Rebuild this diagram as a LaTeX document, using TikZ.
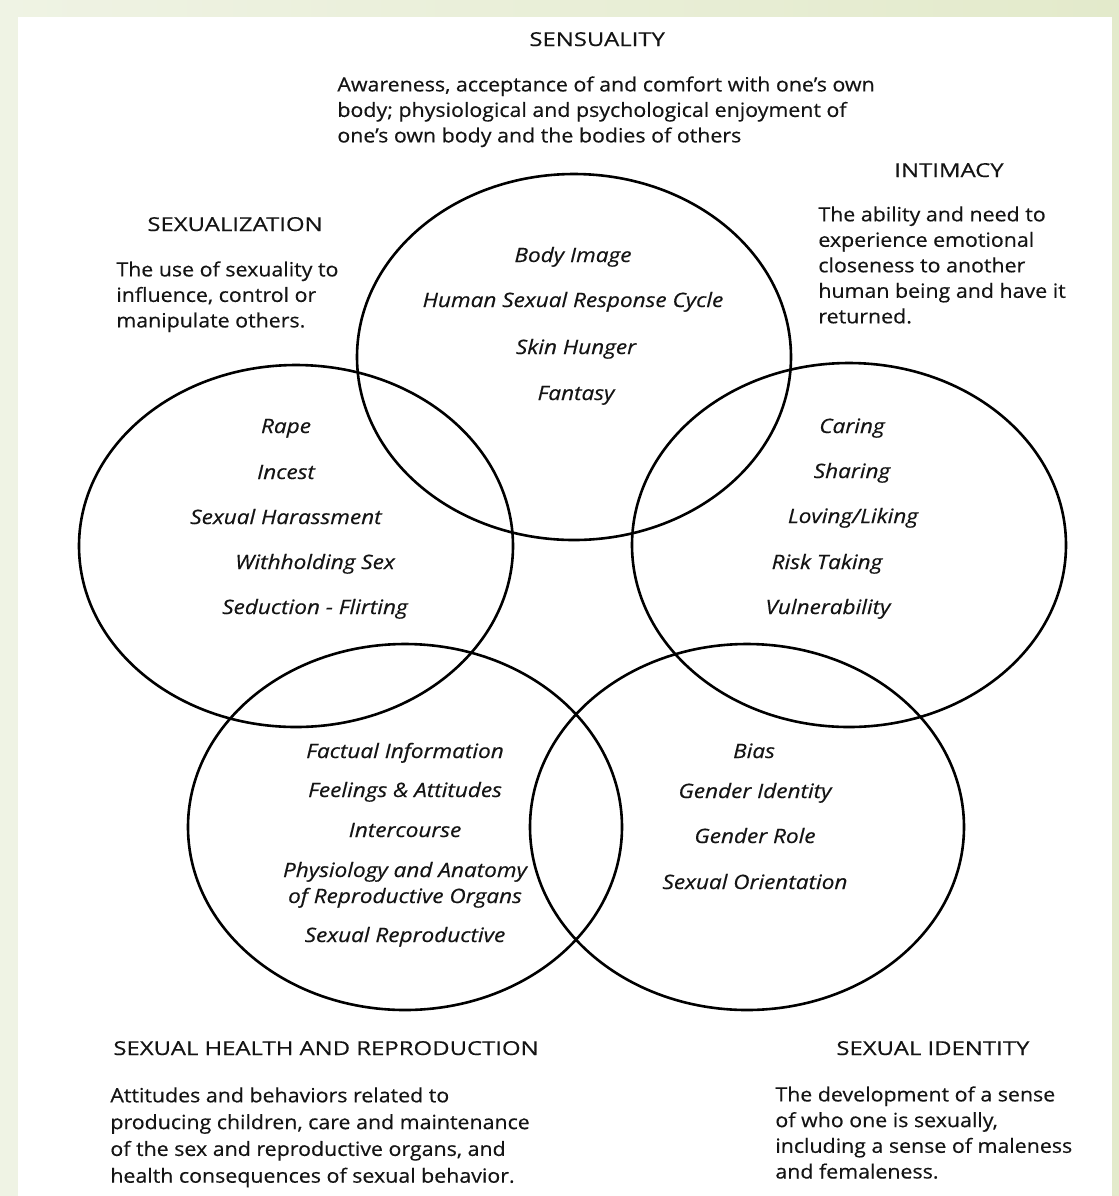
\documentclass[tikz,border=0pt]{standalone}
\usepackage{fontspec}
\setmainfont{Open Sans}
\newfontfamily\headfont[FakeStretch=1.245,FakeBold=0.4]{Open Sans}
\newfontfamily\descfont[FakeStretch=1.09,FakeBold=0.4]{Open Sans}
\newfontfamily\itemfont[FakeStretch=1.14,FakeBold=0.4]{Open Sans}
\definecolor{bgleft}{HTML}{EFF3E4}
\definecolor{bgright}{HTML}{E3EACB}
\definecolor{ink}{HTML}{141414}
\begin{document}
\begin{tikzpicture}[x=0.5pt,y=-0.5pt,
  ring/.style={draw=black,line width=1.3pt},
  head/.style={anchor=base west,inner sep=0pt,text=ink,font=\headfont\fontsize{9.6}{12.7}\selectfont},
  desc/.style={anchor=north west,inner sep=0pt,align=left,text=ink,font=\descfont\fontsize{9.8}{12.75}\selectfont},
  item/.style={anchor=base,inner sep=0pt,text=ink,font=\itemfont\fontsize{9.9}{12.7}\selectfont\itshape}]
\useasboundingbox (0,0) rectangle (1119,1196);
\shade[left color=bgleft,right color=bgright] (0,0) rectangle (1119,1196);
\fill[white] (18,17) rectangle (1112,1196);
% ellipses
\draw[ring] (574,357) ellipse [x radius=217, y radius=183];
\draw[ring] (296,546) ellipse [x radius=217, y radius=181];
\draw[ring] (849,545) ellipse [x radius=217, y radius=182];
\draw[ring] (405,827) ellipse [x radius=217, y radius=183];
\draw[ring] (747,827) ellipse [x radius=217, y radius=183];
% headings
\node[head] (hsens) at (529,46) {SENSUALITY};
\node[head] (hint) at (894,177) {INTIMACY};
\node[head] (hsexz) at (147,231) {SEXUALIZATION};
\node[head] (hhealth) at (113,1055) {SEXUAL HEALTH AND REPRODUCTION};
\node[head] (hid) at (836,1055) {SEXUAL IDENTITY};
% descriptions
\node[desc] (dsens) at (337,76) {Awareness, acceptance of and comfort with one’s own\\body; physiological and psychological enjoyment of\\one’s own body and the bodies of others};
\node[desc] (dint) at (818,206) {The ability and need to\\experience emotional\\closeness to another\\human being and have it\\returned.};
\node[desc] (dsexz) at (116,261) {The use of sexuality to\\influence, control or\\manipulate others.};
\node[desc,font=\descfont\fontsize{9.8}{13.4}\selectfont] (dhealth) at (110,1087) {Attitudes and behaviors related to\\producing children, care and maintenance\\of the sex and reproductive organs, and\\health consequences of sexual behavior.};
\node[desc,font=\descfont\fontsize{9.8}{12.85}\selectfont] (did) at (775,1086) {The development of a sense\\of who one is sexually,\\including a sense of maleness\\and femaleness.};
% sensuality items
\node[item] (s1) at (573,262) {Body Image};
\node[item] (s2) at (573,307) {Human Sexual Response Cycle};
\node[item] (s3) at (576,354) {Skin Hunger};
\node[item] (s4) at (576,400) {Fantasy};
% sexualization items
\node[item] (z1) at (286,433) {Rape};
\node[item] (z2) at (286,479) {Incest};
\node[item] (z3) at (286,524) {Sexual Harassment};
\node[item] (z4) at (315,569) {Withholding Sex};
\node[item] (z5) at (315,614) {Seduction - Flirting};
% intimacy items
\node[item] (i1) at (852,433) {Caring};
\node[item] (i2) at (852,478) {Sharing};
\node[item] (i3) at (853,523) {Loving/Liking};
\node[item] (i4) at (827,569) {Risk Taking};
\node[item] (i5) at (828,614) {Vulnerability};
% health items
\node[item] (r1) at (405,758) {Factual Information};
\node[item] (r2) at (405,797) {Feelings \& Attitudes};
\node[item] (r3) at (405,837) {Intercourse};
\node[item] (r4) at (405,877) {Physiology and Anatomy};
\node[item] (r5) at (405,903) {of Reproductive Organs};
\node[item] (r6) at (405,942) {Sexual Reproductive};
% identity items
\node[item] (g1) at (754,758) {Bias};
\node[item] (g2) at (755,798) {Gender Identity};
\node[item] (g3) at (755,843) {Gender Role};
\node[item] (g4) at (755,889) {Sexual Orientation};
\end{tikzpicture}
\end{document}
